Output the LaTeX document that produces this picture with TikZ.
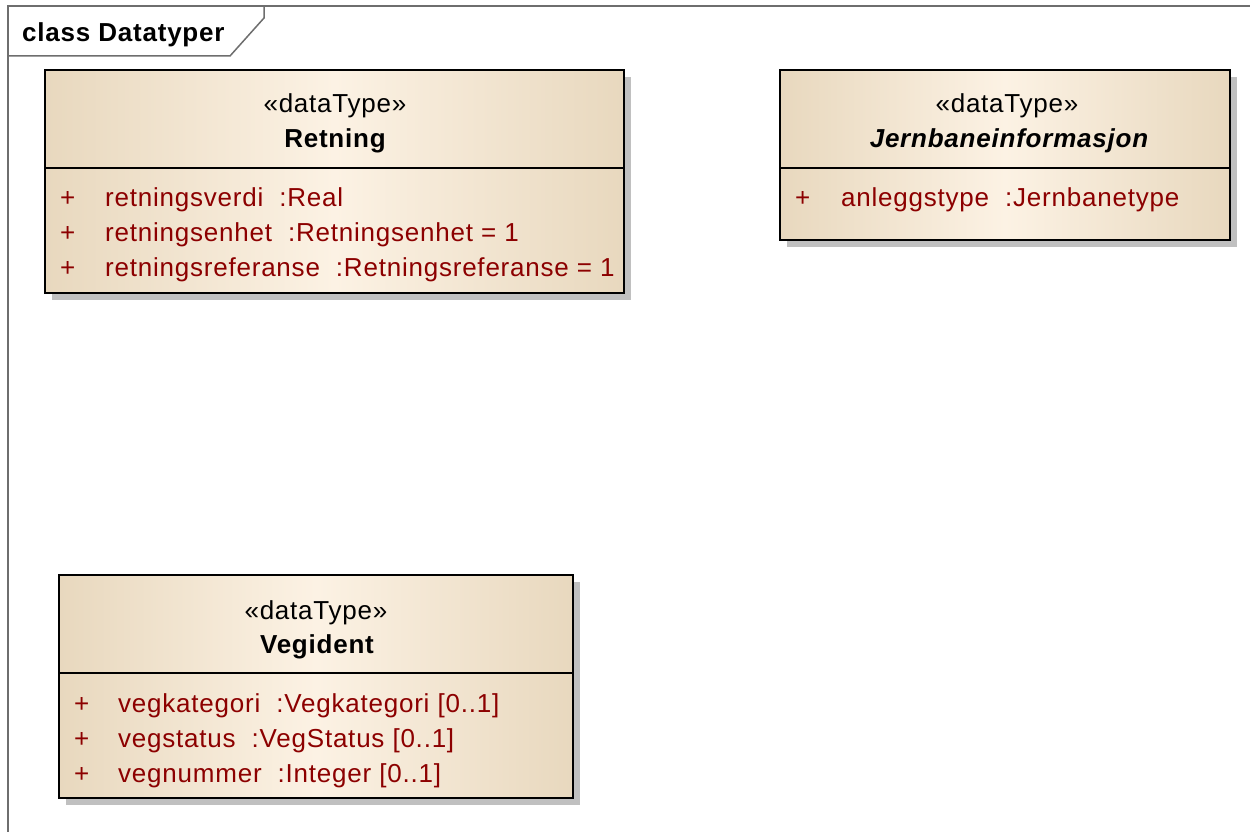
\documentclass[tikz,border=0pt]{standalone}
\usepackage{fontspec}
\setmainfont[LetterSpace=3]{Liberation Sans}
\definecolor{attrc}{RGB}{140,0,0}
\definecolor{edgec}{RGB}{232,216,190}
\definecolor{midc}{RGB}{252,242,228}
\definecolor{shadowc}{RGB}{192,192,192}
\definecolor{framec}{RGB}{110,110,110}
\begin{document}
\begin{tikzpicture}[x=1pt,y=-1pt,
  box/.style={draw=black,line width=2.4pt,left color=edgec,right color=edgec,middle color=midc},
  shadowbox/.style={fill=shadowc},
  divider/.style={draw=black,line width=2pt},
  stereo/.style={font=\fontsize{26}{30}\selectfont,inner sep=0pt,anchor=base},
  cname/.style={font=\fontsize{26}{30}\selectfont\bfseries,inner sep=0pt,anchor=base},
  plus/.style={font=\fontsize{26}{30}\selectfont,text=attrc,inner sep=0pt,anchor=base west},
  attr/.style={font=\fontsize{26}{30}\selectfont,text=attrc,inner sep=0pt,anchor=base west},
  framel/.style={draw=framec,line width=1.5pt},
]
\useasboundingbox (0,0) rectangle (1250,832);
\fill[white] (0,0) rectangle (1250,832);
% frame
\draw[framel] (8,840) -- (8,6) -- (1260,6);
\draw[framel] (8,56) -- (230,56) -- (264,18) -- (264,6);
\node[font=\fontsize{26}{30}\selectfont\bfseries,anchor=base west,inner sep=0pt] (title) at (22,42) {class Datatyper};

% Retning
\fill[shadowbox] (52,77) rectangle (631,300);
\path[box] (45,70) rectangle (624,293);
\draw[divider] (45,168) -- (624,168);
\node[stereo] (rS) at (335,113) {«dataType»};
\node[cname] (rN) at (335,147) {Retning};
\node[plus] (rP1) at (60,206) {+};
\node[attr] (rA1) at (105,206) {retningsverdi~~:Real};
\node[plus] (rP2) at (60,241) {+};
\node[attr] (rA2) at (105,241) {retningsenhet~~:Retningsenhet = 1};
\node[plus] (rP3) at (60,276) {+};
\node[attr] (rA3) at (105,276) {retningsreferanse~~:Retningsreferanse = 1};

% Jernbaneinformasjon
\fill[shadowbox] (787,77) rectangle (1237,247);
\path[box] (780,70) rectangle (1230,240);
\draw[divider] (780,168) -- (1230,168);
\node[stereo] (jS) at (1007,113) {«dataType»};
\node[cname,font=\fontsize{26}{30}\selectfont\bfseries\itshape] (jN) at (1009,147) {Jernbaneinformasjon};
\node[plus] (jP1) at (795,206) {+};
\node[attr] (jA1) at (841,206) {anleggstype~~:Jernbanetype};

% Vegident
\fill[shadowbox] (66,582) rectangle (580,805);
\path[box] (59,575) rectangle (573,798);
\draw[divider] (59,673) -- (573,673);
\node[stereo] (vS) at (316,619) {«dataType»};
\node[cname] (vN) at (317,653) {Vegident};
\node[plus] (vP1) at (74,712) {+};
\node[attr] (vA1) at (118,712) {vegkategori~~:Vegkategori [0..1]};
\node[plus] (vP2) at (74,747) {+};
\node[attr] (vA2) at (118,747) {vegstatus~~:VegStatus [0..1]};
\node[plus] (vP3) at (74,782) {+};
\node[attr] (vA3) at (118,782) {vegnummer~~:Integer [0..1]};
\end{tikzpicture}
\end{document}
